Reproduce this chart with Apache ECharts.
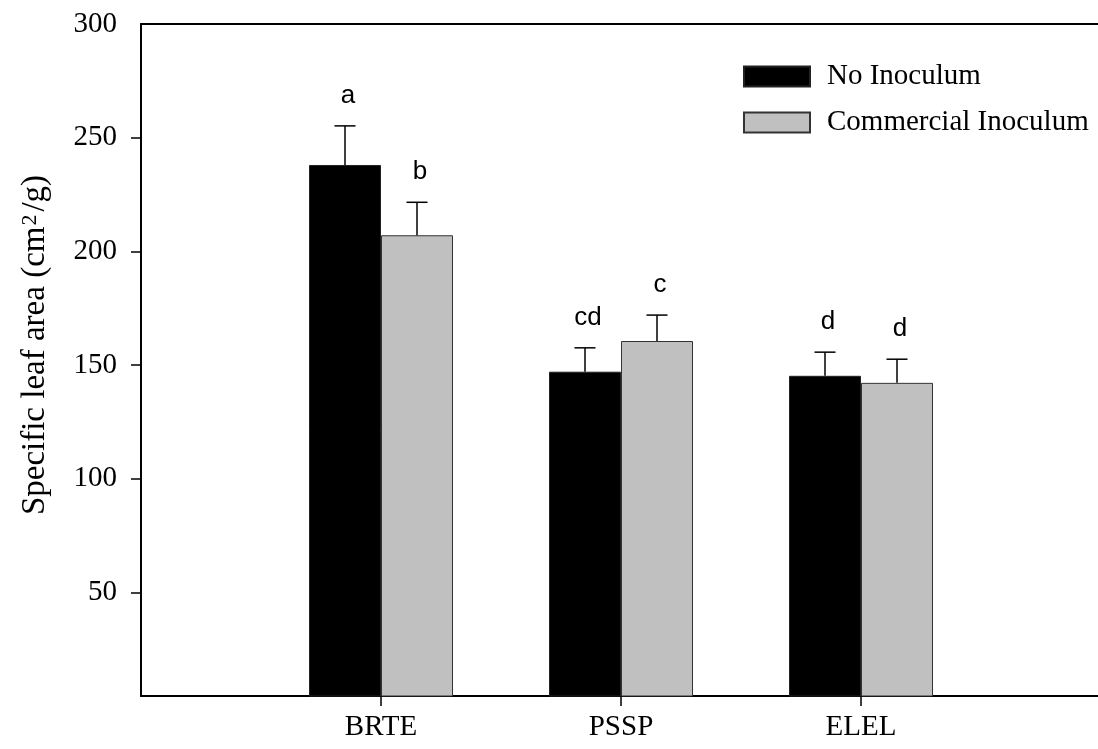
<!DOCTYPE html>
<html><head><meta charset="utf-8">
<script src="https://cdn.jsdelivr.net/npm/echarts@6/dist/echarts.min.js"></script>
<style>html,body{margin:0;padding:0;background:#fff}#c{width:1098px;height:749px}</style>
</head><body><div id="c"></div>
<script>
// ---- data ----
const categories = ['', 'BRTE', 'PSSP', 'ELEL', ''];
const seriesNames = ['No Inoculum', 'Commercial Inoculum'];
const noInoculum = [null, 238.0, 147.1, 145.3, null];
const noInoculumErr = [null, 17.2, 10.5, 10.4, null];
const noInoculumLetters = [null, 'a', 'cd', 'd', null];
const commercial = [null, 207.1, 160.6, 142.2, null];
const commercialErr = [null, 14.5, 11.4, 10.4, null];
const commercialLetters = [null, 'b', 'c', 'd', null];
const yLabelValues = [50, 100, 150, 200, 250, 300];
const yTickValues = [50, 100, 150, 200, 250];
const yMin = 4.5, yMax = 300;

// ---- styles ----
const SERIF = "'Liberation Serif','Times New Roman',serif";
const SANS = "'Liberation Sans',Arial,sans-serif";
const BAR_W = 72;
const CAP_HALF = 10.5;

function errData(vals, errs, letters) {
  const out = [];
  vals.forEach((v, i) => { if (v != null) out.push([i, v, errs[i], letters[i]]); });
  return out;
}

function errSeries(vals, errs, letters, offset) {
  return {
    type: 'custom',
    xAxisIndex: 0, yAxisIndex: 0,
    z: 5,
    silent: true,
    encode: { x: 0, y: 1 },
    data: errData(vals, errs, letters),
    renderItem: function (params, api) {
      const idx = api.value(0);
      const v = api.value(1);
      const e = api.value(2);
      const p0 = api.coord([idx, v]);
      const p1 = api.coord([idx, v + e]);
      const x = p0[0] + offset;
      const style = { stroke: '#000', lineWidth: 1.5 };
      return {
        type: 'group',
        children: [
          { type: 'line', shape: { x1: x, y1: p0[1], x2: x, y2: p1[1] }, style: style },
          { type: 'line', shape: { x1: x - CAP_HALF, y1: p1[1], x2: x + CAP_HALF, y2: p1[1] }, style: style },
          { type: 'text', x: x + 3, y: p1[1] - 17,
            style: { text: letters[idx], font: '26px ' + SANS, fill: '#000', align: 'center', verticalAlign: 'bottom' } }
        ]
      };
    }
  };
}

const chart = echarts.init(document.getElementById('c'), null, { renderer: 'canvas' });
chart.setOption({
  animation: false,
  backgroundColor: '#fff',
  grid: { left: 141, right: -3, top: 24, bottom: 53, outerBoundsMode: 'none', containLabel: false },
  legend: {
    orient: 'vertical',
    left: 743, top: 62,
    itemWidth: 66, itemHeight: 20, itemGap: 17,
    padding: 0,
    icon: 'rect',
    data: seriesNames,
    textStyle: { fontFamily: SERIF, fontSize: 29, color: '#000', lineHeight: 20, padding: [0, 0, 0, 12] }
  },
  xAxis: [{
    type: 'category',
    data: categories,
    boundaryGap: false,
    position: 'bottom',
    axisLine: { onZero: false, lineStyle: { color: '#000', width: 2 } },
    axisTick: { show: true, length: 10, inside: false, interval: (i, v) => v !== '', lineStyle: { color: '#000', width: 1.5 } },
    axisLabel: { color: '#000', fontFamily: SERIF, fontSize: 29, margin: 17, interval: 0 },
    splitLine: { show: false }
  }, {
    type: 'category',
    data: categories,
    boundaryGap: false,
    position: 'top',
    axisLine: { onZero: false, lineStyle: { color: '#000', width: 2 } },
    axisTick: { show: false },
    axisLabel: { show: false },
    splitLine: { show: false }
  }],
  yAxis: {
    type: 'value',
    min: yMin, max: yMax,
    name: 'Specific leaf area (cm{sup|2}/g)',
    nameLocation: 'middle',
    nameRotate: 90,
    nameGap: 89,
    nameTextStyle: {
      fontFamily: SERIF, fontSize: 33, color: '#000',
      padding: [0, 0, 0, 30],
      rich: { sup: { fontFamily: SERIF, fontSize: 22, color: '#000', verticalAlign: 'top', padding: [0, 3, 0, 1] } }
    },
    axisLine: { show: true, onZero: false, lineStyle: { color: '#000', width: 2 } },
    axisTick: { show: true, length: 10, inside: false, customValues: yTickValues, lineStyle: { color: '#000', width: 1.5 } },
    axisLabel: { color: '#000', fontFamily: SERIF, fontSize: 29, margin: 24, customValues: yLabelValues },
    splitLine: { show: false }
  },
  series: [
    { name: seriesNames[0], type: 'bar', data: noInoculum, barWidth: BAR_W, barGap: '0%', clip: true,
      itemStyle: { color: '#000', borderColor: '#222', borderWidth: 1 } },
    { name: seriesNames[1], type: 'bar', data: commercial, barWidth: BAR_W, barGap: '0%', clip: true,
      itemStyle: { color: '#c0c0c0', borderColor: '#333', borderWidth: 1 } },
    errSeries(noInoculum, noInoculumErr, noInoculumLetters, -BAR_W / 2),
    errSeries(commercial, commercialErr, commercialLetters, BAR_W / 2)
  ]
});
</script>
</body></html>
